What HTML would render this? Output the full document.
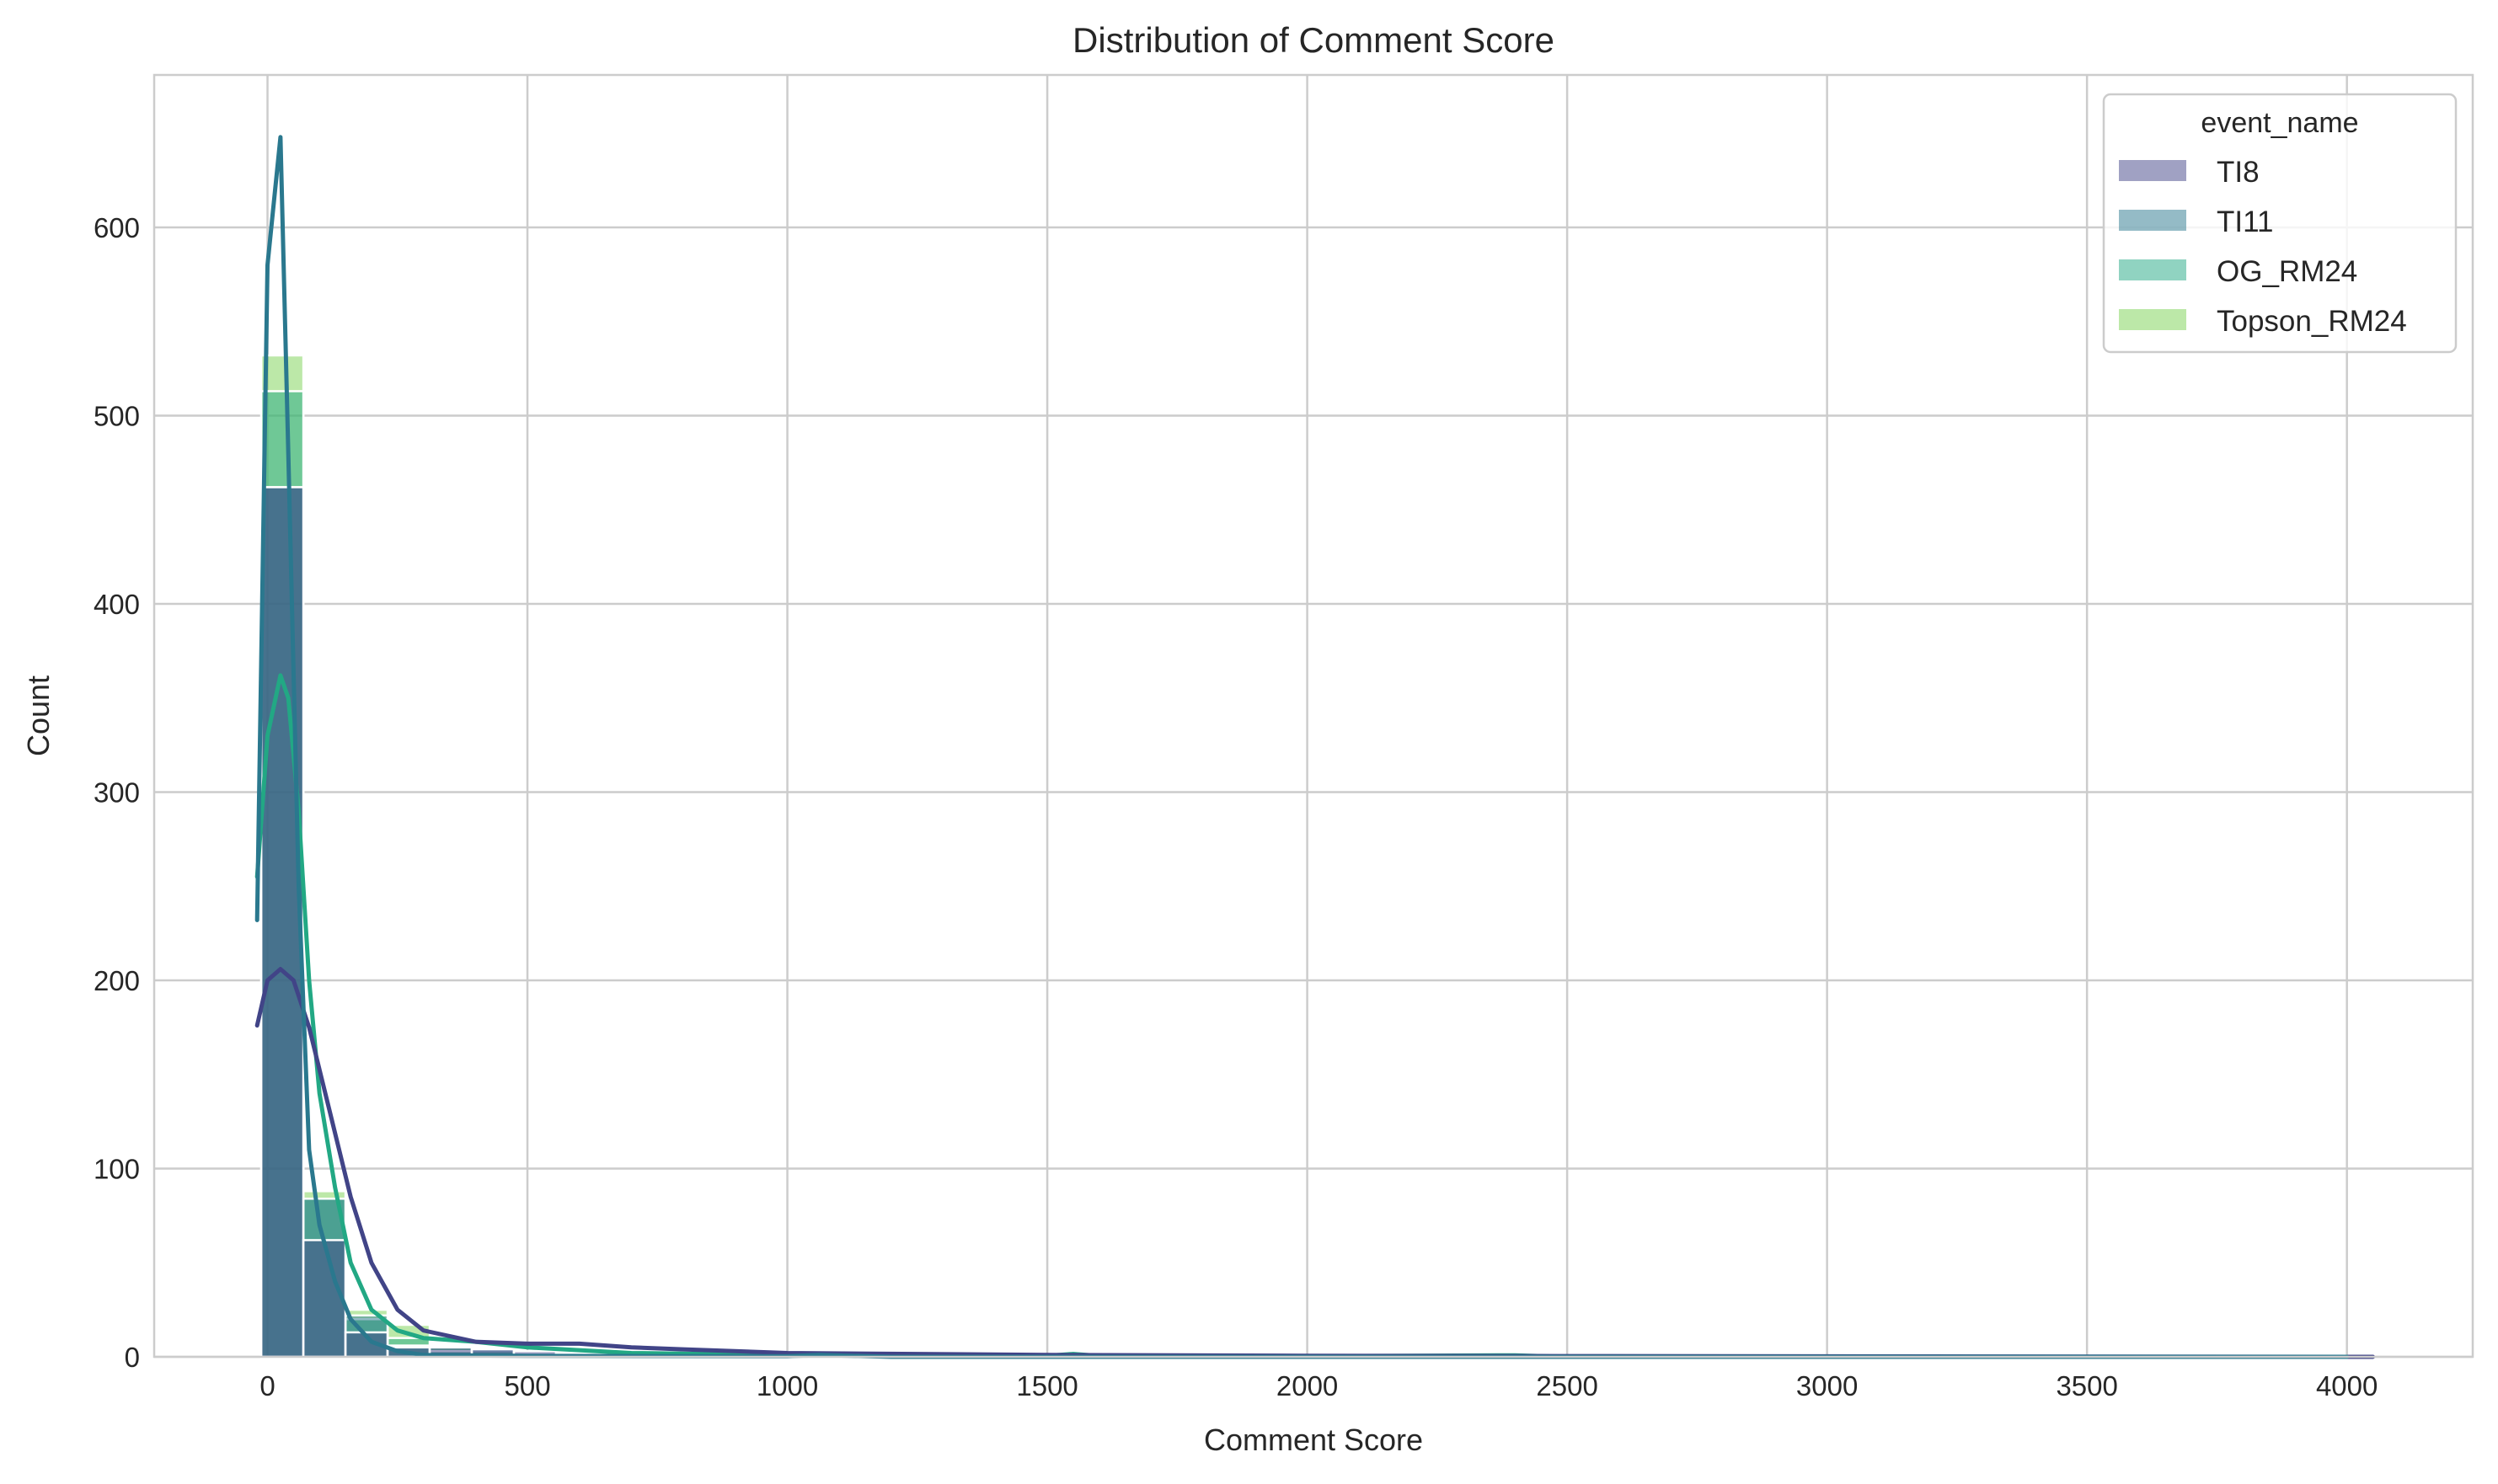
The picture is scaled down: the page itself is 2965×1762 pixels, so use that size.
<!DOCTYPE html>
<html><head><meta charset="utf-8">
<style>
html,body{margin:0;padding:0;background:#fff;}
svg{display:block;font-family:"Liberation Sans",Arial,sans-serif;}
</style></head>
<body>
<svg id="chart" width="2965" height="1762" viewBox="0 0 2965 1762">
<text x="1559" y="62" text-anchor="middle" font-size="42" fill="#262626">Distribution of Comment Score</text>
<g id="grid"></g>
<g id="bars"></g>
<g id="lines"></g>
<rect x="183" y="89" width="2752" height="1522" fill="none" stroke="#cccccc" stroke-width="2.5"/>
<g id="ticks"></g>
<text x="1559" y="1722" text-anchor="middle" font-size="36" fill="#262626">Comment Score</text>
<text x="58" y="850" text-anchor="middle" font-size="36" fill="#262626" transform="rotate(-90 58 850)">Count</text>
<g>
<rect x="2497" y="112" width="418" height="306" rx="8" fill="#fff" fill-opacity="0.8" stroke="#cccccc" stroke-width="2.5"/>
<text x="2706" y="157" text-anchor="middle" font-size="34" fill="#262626">event_name</text>
<g><rect x="2515" y="190" width="80" height="25" fill="#414487" fill-opacity="0.5"/><text x="2631" y="216" font-size="35" fill="#262626">TI8</text></g>
<g><rect x="2515" y="249" width="80" height="25" fill="#2a788e" fill-opacity="0.5"/><text x="2631" y="275" font-size="35" fill="#262626">TI11</text></g>
<g><rect x="2515" y="308" width="80" height="25" fill="#22a884" fill-opacity="0.5"/><text x="2631" y="334" font-size="35" fill="#262626">OG_RM24</text></g>
<g><rect x="2515" y="367" width="80" height="25" fill="#7ad151" fill-opacity="0.5"/><text x="2631" y="393" font-size="35" fill="#262626">Topson_RM24</text></g>
</g>
</svg>
<script>
const xTicks=[0,500,1000,1500,2000,2500,3000,3500,4000];
const yTicks=[0,100,200,300,400,500,600];
const binStart=-12, binWidth=81;
const histTI8=[462,62,13,5,5,4,3,2,1,1,0,1,0,0,0];
const histTI11=[462,84,22,6,3,5,2,1,1,0,0,0,0,1,0];
const histOG=[513,84,20,10,5,3,2,2,1,1,0,0,0,0,0];
const histTopson=[532,88,25,17,5,3,2,1,1,0,0,0,0,0,0];
const kdeTI8X=[-20,0,25,50,80,120,160,200,250,300,400,500,600,700,800,1000,1500,2000,2500,4050];
const kdeTI8Y=[176,200,206,200,175,130,85,50,25,14,8,7,7,5,4,2,1,0.6,0.4,0];
const kdeTI11X=[-20,0,25,40,60,80,100,130,160,200,250,300,500,1000,1060,1200,4000];
const kdeTI11Y=[232,580,648,480,250,110,70,40,20,8,3,1,0.5,0.3,1,0,0];
const kdeOGX=[-20,0,25,40,60,80,100,130,160,200,250,300,400,500,700,1000,1500,1550,1600,2000,2400,2500];
const kdeOGY=[255,330,362,350,290,200,140,90,50,25,14,10,8,5,2,1,0.6,1.5,0.5,0.3,0.8,0];

const X0=183,X1=2935,Y0=1611,Y1=89,xmin=-218,xmax=4242,ymin=0,ymax=681;
const sx=v=>X0+(v-xmin)/(xmax-xmin)*(X1-X0);
const sy=v=>Y0-(v-ymin)/(ymax-ymin)*(Y0-Y1);
const NS='http://www.w3.org/2000/svg';
function mk(tag,attrs,parent){const e=document.createElementNS(NS,tag);for(const k in attrs)e.setAttribute(k,attrs[k]);parent.appendChild(e);return e;}
const grid=document.getElementById('grid'),ticks=document.getElementById('ticks');
xTicks.forEach(t=>{
  const l=mk('line',{x1:sx(t),x2:sx(t),y1:Y1,y2:Y0,stroke:'#cccccc','stroke-width':2.5},grid);
  
  
  const tx=mk('text',{x:sx(t),y:Y0+46,'text-anchor':'middle','font-size':33,fill:'#262626'},ticks);
  tx.textContent=t;
  
  
});
yTicks.forEach(t=>{
  const l=mk('line',{x1:X0,x2:X1,y1:sy(t),y2:sy(t),stroke:'#cccccc','stroke-width':2.5},grid);
  
  
  const tx=mk('text',{x:X0-17,y:sy(t)+12,'text-anchor':'end','font-size':33,fill:'#262626'},ticks);
  tx.textContent=t;
  
  
});
const bars=document.getElementById('bars');
[[histTopson,'#7ad151','topson-rm24'],[histOG,'#22a884','og-rm24'],[histTI11,'#2a788e','ti11'],[histTI8,'#414487','ti8']].forEach(([vals,c,n])=>{
  vals.forEach((v,i)=>{
    if(v<=0)return;
    const a=binStart+i*binWidth,b=a+binWidth;
    const r=mk('rect',{x:sx(a),y:sy(v),width:sx(b)-sx(a),height:sy(0)-sy(v),fill:c,'fill-opacity':0.5,stroke:'#fff','stroke-width':2.5},bars);
    
    
  });
});
const lines=document.getElementById('lines');
[[kdeOGX,kdeOGY,'#22a884','og-rm24'],[kdeTI8X,kdeTI8Y,'#414487','ti8'],[kdeTI11X,kdeTI11Y,'#2a788e','ti11']].forEach(([xs,ys,c,n])=>{
  const pts=xs.map((x,i)=>sx(x).toFixed(1)+','+sy(ys[i]).toFixed(1)).join(' ');
  const p=mk('polyline',{points:pts,fill:'none',stroke:c,'stroke-width':5,'stroke-linejoin':'round','stroke-linecap':'round'},lines);
  
  
});
</script>
</body></html>
